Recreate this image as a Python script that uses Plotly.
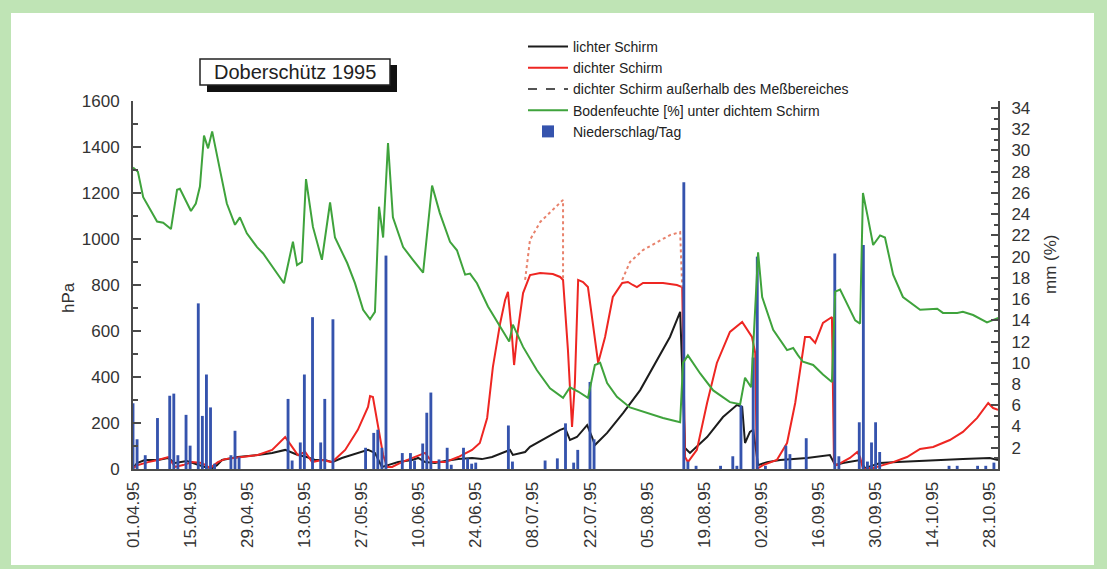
import plotly.graph_objects as go
import pandas as pd

# ---------------- data (days since 01.04.1995) ----------------
BASE = pd.Timestamp("1995-04-01")

light_days = [0, 1, 2.9, 6.1, 8.6, 10.3, 13.2, 15.2, 17.6, 19.4, 20.6, 21.8, 24.3, 25.7, 30.6, 34.1,
              37.3, 39.0, 40.4, 42.6, 44.6, 47.1, 48.8, 51.2, 55.1, 57.6, 59.3, 61.0, 62.5, 65.0,
              68.4, 69.9, 71.6, 74.0, 76.5, 79.7, 83.1, 85.5, 88.0, 91.2, 92.4, 93.1, 96.1, 97.3,
              101.5, 104.7, 105.9, 107.1, 108.8, 111.3, 112.5, 113.2, 116.2, 120.1, 124.3, 128.4,
              131.6, 134.1, 135.3, 136.5, 140.7, 144.6, 148.0, 149.3, 150.0, 151.2, 152.0, 153.2,
              155.4, 158.6, 165.2, 170.8, 172.1, 174.0, 178.2, 179.4, 183.1, 187.3, 195.3, 203.4,
              210.0, 212.0]
light_hpa = [4, 26, 39, 39, 48, 26, 35, 22, 9, 4, 17, 39, 48, 52, 61, 70,
             83, 70, 61, 52, 39, 39, 30, 48, 70, 83, 70, 9, 17, 30,
             39, 48, 30, 26, 35, 43, 48, 43, 52, 74, 83, 61, 74, 96,
             139, 170, 178, 126, 139, 191, 139, 104, 157, 243, 343, 474,
             574, 683, 91, 70, 139, 226, 278, 270, 113, 161, 170, 17,
             30, 39, 48, 61, 17, 26, 39, 4, 26, 30, 35, 43,
             48, 39]

dense_days = [0, 1.2, 3.7, 6.1, 8.6, 10.3, 12.3, 14.5, 16.9, 18.9, 20.8, 22.5, 26.7, 30.6, 34.1,
              37.3, 39.0, 40.4, 42.2, 43.9, 46.3, 48.8, 52.0, 55.1, 57.6, 58.1, 58.8, 60.0, 61.3,
              62.3, 63.5, 65.9, 69.1, 71.6, 73.3, 76.5, 79.7, 83.1, 85.0, 86.8, 88.2, 90.0, 91.2,
              91.9, 92.9, 93.4, 94.1, 95.6, 97.3, 99.8, 102.9, 104.7, 105.4, 106.6, 107.6, 108.3,
              109.1, 110.3, 111.5, 112.5, 114.0, 115.7, 117.6, 119.9, 121.3, 122.5, 123.5, 125.0,
              129.9, 133.3, 134.6, 135.3, 136.0, 138.2, 140.7, 143.1, 146.3, 149.3, 150.5, 151.7,
              152.5, 152.9, 154.4, 157.8, 160.3, 162.3, 164.7, 165.9, 167.2, 169.1, 171.3, 171.8,
              172.5, 175.7, 177.5, 178.2, 178.9, 181.4, 183.8, 186.3, 189.7, 192.9, 196.1, 200.2,
              203.4, 206.9, 209.6, 210.8, 212.0]
dense_hpa = [4, 17, 30, 39, 52, 9, 17, 30, 26, 4, 30, 43, 52, 61, 83,
             139, 96, 61, 74, 30, 39, 30, 83, 170, 270, 317, 313, 200, 61,
             9, 9, 30, 52, 70, 30, 30, 52, 83, 113, 222, 443, 635, 735,
             770, 574, 452, 574, 765, 843, 852, 848, 835, 822, 517, 183, 374,
             822, 813, 791, 661, 461, 574, 748, 809, 813, 800, 791, 809,
             809, 800, 791, 52, 30, 83, 287, 461, 596, 639, 604, 574,
             504, 0, 17, 39, 113, 287, 574, 574, 548, 635, 661, 26,
             17, 48, 74, 52, 0, 4, 17, 30, 52, 87, 96, 126,
             161, 222, 287, 265, 257]

# dense canopy outside of the measuring range (None = gap)
out_days = [96.1, 97.3, 99.8, 102.2, 105.4, 105.4, None,
            119.9, 121.8, 125.0, 128.4, 131.6, 134.1, 134.6]
out_hpa = [822, 996, 1074, 1117, 1170, 822, None,
           822, 900, 952, 987, 1017, 1030, 791]

soil_days = [0, 1.2, 2.5, 4.2, 5.9, 7.4, 9.3, 10.8, 11.5, 14.2, 15.4, 16.4, 17.4, 18.4, 19.4,
             21.3, 23.0, 25.0, 26.2, 27.9, 30.4, 31.9, 34.3, 37.0, 39.2, 40.2, 41.4, 42.4, 44.1,
             46.3, 48.3, 49.5, 52.5, 54.4, 56.4, 58.1, 59.3, 60.3, 61.3, 62.5, 63.7, 66.2, 68.6,
             71.1, 73.3, 75.2, 77.7, 79.4, 81.4, 82.6, 84.3, 87.0, 90.0, 92.2, 93.1, 95.6, 99.0,
             102.2, 105.4, 107.1, 109.1, 111.5, 113.2, 114.5, 116.2, 118.6, 121.8, 126.0, 129.9,
             134.1, 134.8, 136.0, 139.0, 142.2, 146.3, 148.8, 150.0, 151.5, 153.2, 154.2, 156.9,
             160.3, 161.8, 163.0, 164.2, 166.7, 169.1, 171.3, 172.1, 173.3, 175.0, 177.0, 178.2,
             178.9, 180.1, 181.4, 183.1, 184.3, 186.3, 188.7, 192.9, 197.1, 198.5, 202.0, 203.4,
             205.9, 209.3, 210.8, 212.5]
soil_pct = [28.4, 28.0, 25.6, 24.4, 23.3, 23.2, 22.6, 26.3, 26.4, 24.3, 25.0, 26.6, 31.4, 30.2, 31.8,
            28.2, 25.0, 23.0, 23.7, 22.2, 20.9, 20.3, 19.0, 17.5, 21.4, 19.2, 19.5, 27.3, 22.8,
            19.7, 25.1, 21.8, 19.4, 17.5, 15.0, 14.1, 14.8, 24.7, 21.8, 30.7, 23.7, 20.9, 19.7,
            18.5, 26.7, 24.1, 21.4, 20.6, 18.3, 18.4, 17.5, 15.3, 13.4, 12.0, 13.6, 11.5, 9.3,
            7.6, 6.7, 7.7, 7.3, 6.7, 9.8, 10.0, 8.1, 6.8, 5.8, 5.3, 4.8,
            4.4, 10.0, 10.7, 9.0, 7.4, 6.3, 6.1, 8.6, 7.7, 20.4, 16.2, 13.1,
            11.2, 11.4, 10.7, 10.1, 9.8, 8.9, 8.2, 16.7, 16.9, 15.6, 14.0, 13.7,
            26.0, 23.7, 21.1, 22.0, 21.8, 18.3, 16.2, 15.0, 15.1, 14.7, 14.7, 14.8,
            14.5, 13.8, 14.0, 14.3]

rain_days = [0, 1, 3, 6, 9, 10, 11, 13, 14, 16, 17, 18, 19, 20, 24, 25, 26,
             38, 39, 41, 42, 44, 46, 47, 49, 57, 59, 60, 61, 62, 66, 68, 69, 71, 72, 73,
             75, 77, 78, 81, 82, 83, 84, 92, 93, 101, 104, 106, 108, 109, 112, 113,
             135, 136, 138, 144, 147, 148, 149, 152, 153, 155, 160, 161, 165,
             172, 173, 178, 179, 180, 181, 182, 183, 200, 202, 207, 209, 211]
rain_mm = [6.2, 2.8, 1.3, 4.8, 6.9, 7.1, 1.3, 5.1, 2.2, 15.6, 5.0, 8.9, 5.8, 0.5, 1.3, 3.6, 1.1,
           6.6, 0.8, 2.5, 8.9, 14.3, 2.5, 6.6, 14.1, 2.0, 3.4, 3.7, 2.0, 20.1, 1.5, 1.5, 0.8, 2.4, 5.3, 7.2,
           0.9, 2.0, 0.4, 2.0, 1.0, 0.5, 0.6, 4.1, 0.7, 0.8, 1.0, 4.3, 0.6, 1.8, 8.2, 2.8,
           27.0, 0.7, 0.3, 0.3, 1.2, 0.3, 6.0, 10.5, 20.0, 0.3, 2.2, 1.4, 2.9,
           20.3, 1.2, 4.4, 21.1, 0.7, 2.5, 4.4, 1.6, 0.3, 0.3, 0.3, 0.3, 0.6]

tick_start = "1995-04-01"
tick_step_days = 14
x_range = ["1995-04-01", "1995-10-30"]
hpa_ticks = list(range(0, 1601, 200))
mm_ticks = list(range(2, 35, 2))


def to_dates(days):
    return [None if d is None else BASE + pd.Timedelta(days=d) for d in days]


# ---------------- layout geometry helpers ----------------
W, H = 1107, 569
ML, MR, MT, MB = 133, 109, 101, 100
PW, PH = W - ML - MR, H - MT - MB


def px(x):
    return (x - ML) / PW


def py(y):
    return (H - MB - y) / PH


BLACK = "#1c1c1c"
RED = "#ee2622"
GREEN = "#3fa33c"
BLUE = "#3553ad"
FONT = "Liberation Sans, Arial, sans-serif"
AX = "#4a4a4a"

fig = go.Figure()

fig.add_trace(go.Scatter(x=to_dates(light_days), y=light_hpa, mode="lines",
                         line=dict(color=BLACK, width=2), name="lichter Schirm",
                         legendrank=1))
fig.add_trace(go.Scatter(x=to_dates(dense_days), y=dense_hpa, mode="lines",
                         line=dict(color=RED, width=2), name="dichter Schirm",
                         legendrank=2))
fig.add_trace(go.Scatter(x=to_dates(out_days), y=out_hpa, mode="lines",
                         line=dict(color="#e8826c", width=2, dash="dot"),
                         name="dichter Schirm außerhalb des Meßbereiches",
                         showlegend=False, connectgaps=False))
fig.add_trace(go.Scatter(x=[None], y=[None], mode="lines",
                         line=dict(color=BLACK, width=1.5, dash="dash"),
                         name="dichter Schirm außerhalb des Meßbereiches",
                         legendrank=3))
fig.add_trace(go.Scatter(x=to_dates(soil_days), y=soil_pct, mode="lines",
                         line=dict(color=GREEN, width=2), yaxis="y2",
                         name="Bodenfeuchte [%] unter dichtem Schirm", legendrank=4))
fig.add_trace(go.Bar(x=to_dates(rain_days), y=rain_mm, yaxis="y2",
                     marker=dict(color=BLUE, line=dict(width=0)),
                     width=0.7 * 86400000, name="Niederschlag/Tag", legendrank=5))

fig.update_layout(
    width=W, height=H,
    margin=dict(l=ML, r=MR, t=MT, b=MB, pad=0),
    paper_bgcolor="#bfe4b5",
    plot_bgcolor="rgba(0,0,0,0)",
    font=dict(family=FONT, color="#333333"),
    barmode="overlay",
    showlegend=True,
    legend=dict(x=px(523), y=py(31), xanchor="left", yanchor="top",
                bgcolor="rgba(0,0,0,0)", font=dict(size=14, color="#222222"),
                itemwidth=40, tracegroupgap=0),
    xaxis=dict(type="date", range=x_range, tick0=tick_start,
               dtick=tick_step_days * 86400000, tickformat="%d.%m.%y",
               tickangle=-90, tickfont=dict(size=17, color="#333333"),
               showgrid=False, zeroline=False, showline=True, linecolor=AX,
               linewidth=2, ticks="", ticklabelstandoff=4),
    yaxis=dict(range=[0, 1600], tickvals=hpa_ticks, showgrid=False, zeroline=False,
               showline=True, linecolor=AX, linewidth=2, ticks="inside",
               ticklen=8, tickcolor=AX, tickwidth=1.5,
               minor=dict(dtick=100, ticks="inside", ticklen=5, tickcolor=AX),
               tickfont=dict(size=17, color="#333333"), ticklabelstandoff=8),
    yaxis2=dict(range=[0, 34.66], overlaying="y", side="right", tickvals=mm_ticks,
                showgrid=False, zeroline=False, showline=True, linecolor=AX,
                linewidth=2, ticks="inside", ticklen=7, tickcolor=AX, tickwidth=1.5,
                minor=dict(dtick=1, ticks="inside", ticklen=4, tickcolor=AX),
                tickfont=dict(size=17, color="#333333"), ticklabelstandoff=8),
    shapes=[
        dict(type="rect", xref="paper", yref="paper", layer="below",
             x0=px(11), x1=px(1094), y0=py(565), y1=py(13),
             fillcolor="white", line=dict(width=0)),
        dict(type="rect", xref="paper", yref="paper",
             x0=px(207), x1=px(397), y0=py(92), y1=py(65),
             fillcolor="#111111", line=dict(width=0)),
        dict(type="rect", xref="paper", yref="paper",
             x0=px(200), x1=px(390), y0=py(85), y1=py(59),
             fillcolor="white", line=dict(color="#222222", width=1.5)),
    ],
    annotations=[
        dict(text="Doberschütz 1995", xref="paper", yref="paper", x=px(295), y=py(72),
             xanchor="center", yanchor="middle",
             showarrow=False, font=dict(size=20, color="#222222", family=FONT)),
        dict(text="hPa", xref="paper", yref="paper", x=px(68), y=py(298),
             xanchor="center", yanchor="middle",
             textangle=-90, showarrow=False, font=dict(size=17, color="#333333")),
        dict(text="mm (%)", xref="paper", yref="paper", x=px(1050), y=py(265),
             xanchor="center", yanchor="middle",
             textangle=-90, showarrow=False, font=dict(size=17, color="#333333")),
    ],
)

fig.write_html("out.html", config={"displayModeBar": False},
               post_script="document.body.style.margin='0px';")
